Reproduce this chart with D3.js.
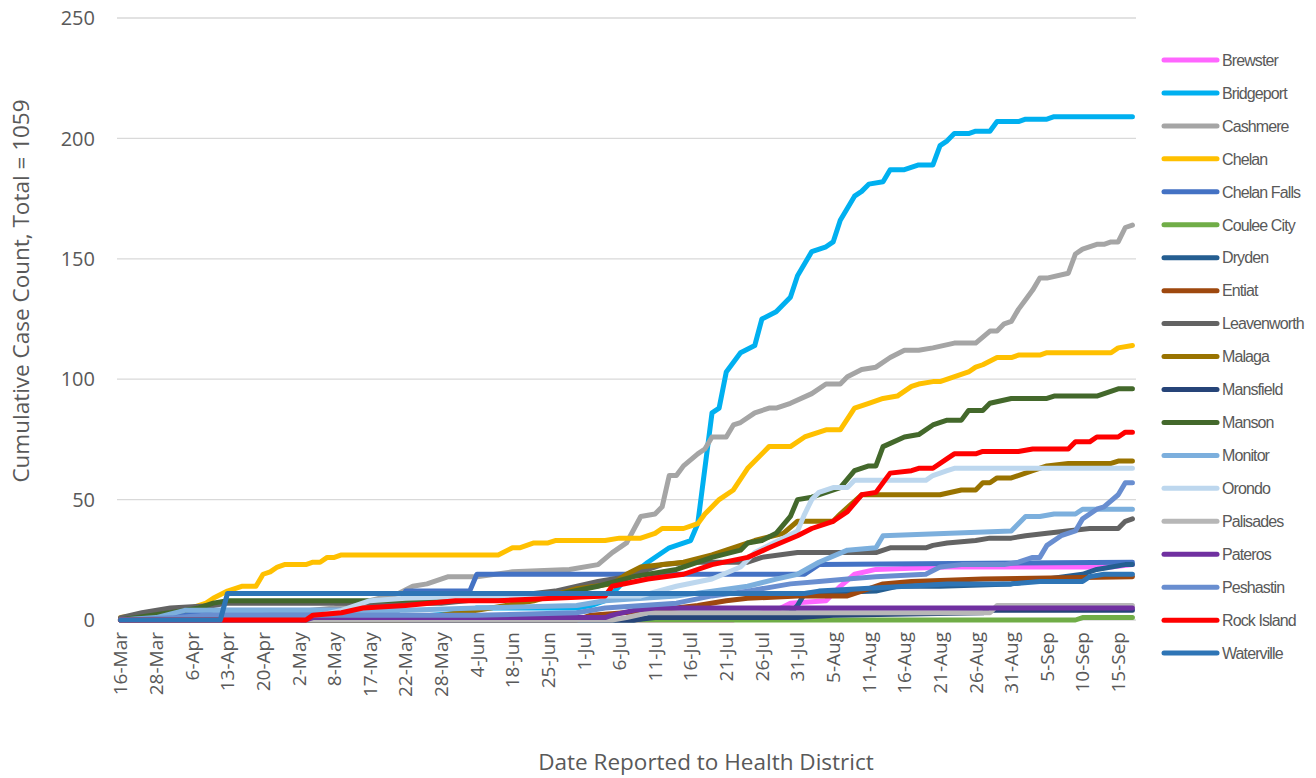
<!DOCTYPE html>
<html lang="en">
<head>
<meta charset="UTF-8">
<script src="https://cdnjs.cloudflare.com/ajax/libs/d3/7.8.5/d3.min.js"></script>
<style>
body { margin: 0; background: #fff; }
svg { display: block; }
.tick-y, .tick-x { font-family: "Open Sans", sans-serif; fill: #595959; }
.legend text { font-family: "Liberation Sans Narrow", "Liberation Sans", sans-serif; fill: #595959; }
</style>
</head>
<body>
<script>
// x axis: one label every 5 reported dates (category index 0..142)
var tickLabels = ["16-Mar","28-Mar","6-Apr","13-Apr","20-Apr","2-May","8-May","17-May","22-May","28-May",
  "4-Jun","18-Jun","25-Jun","1-Jul","6-Jul","11-Jul","16-Jul","21-Jul","26-Jul","31-Jul",
  "5-Aug","11-Aug","16-Aug","21-Aug","26-Aug","31-Aug","5-Sep","10-Sep","15-Sep"];
var nCategories = 143;
var yTicks = [0, 50, 100, 150, 200, 250];

var names = ["Brewster","Bridgeport","Cashmere","Chelan","Chelan Falls","Coulee City","Dryden","Entiat",
  "Leavenworth","Malaga","Mansfield","Manson","Monitor","Orondo","Palisades","Pateros","Peshastin",
  "Rock Island","Waterville"];
var colors = ["#FF66FF","#00B0F0","#A5A5A5","#FFC000","#4472C4","#70AD47","#255E91","#9E480E",
  "#636363","#997300","#264478","#43682B","#7CAFDD","#BDD7EE","#B7B7B7","#7030A0","#698ED0",
  "#FF0000","#2E75B6"];

// cumulative counts: [category index, count] at each change
var brewster = [[0,0],[86,0],[88,2],[92,4],[94,7],[99,8],[101,14],[103,19],[106,21],[116,22],[139,22],[142,23]];
var bridgeport = [[0,0],[40,1],[48,3],[50,5],[64,5],[66,6],[68,8],[69,11],[71,17],[74,24],[77,30],[80,33],[81,40],
  [83,86],[84,88],[85,103],[87,111],[89,114],[90,125],[92,128],[94,134],[95,143],[97,153],[99,155],[100,157],
  [101,166],[103,176],[104,178],[105,181],[107,182],[108,187],[110,187],[112,189],[114,189],[115,197],[116,199],
  [117,202],[119,202],[120,203],[122,203],[123,207],[126,207],[127,208],[130,208],[131,209],[142,209]];
var cashmere = [[0,0],[10,1],[20,2],[30,5],[35,8],[39,11],[41,14],[43,15],[46,18],[50,18],[55,20],[63,21],[67,23],
  [69,28],[71,32],[73,43],[75,44],[76,47],[77,60],[78,60],[79,64],[81,69],[82,71],[83,76],[85,76],[86,81],[87,82],
  [89,86],[91,88],[92,88],[94,90],[97,94],[99,98],[101,98],[102,101],[104,104],[106,105],[108,109],[110,112],
  [112,112],[114,113],[117,115],[120,115],[122,120],[123,120],[124,123],[125,124],[126,129],[127,133],[128,137],
  [129,142],[130,142],[133,144],[134,152],[135,154],[137,156],[138,156],[139,157],[140,157],[141,163],[142,164]];
var chelan = [[0,1],[5,3],[10,5],[12,7],[13,9],[15,12],[17,14],[19,14],[20,19],[21,20],[22,22],[23,23],[26,23],
  [27,24],[28,24],[29,26],[30,26],[31,27],[53,27],[55,30],[56,30],[58,32],[60,32],[61,33],[68,33],[70,34],[73,34],
  [75,36],[76,38],[79,38],[81,40],[82,44],[84,50],[86,54],[88,63],[91,72],[94,72],[96,76],[99,79],[101,79],
  [103,88],[105,90],[107,92],[109,93],[111,97],[112,98],[114,99],[115,99],[119,103],[120,105],[121,106],[123,109],
  [125,109],[126,110],[129,110],[130,111],[139,111],[140,113],[142,114]];
var chelanFalls = [[0,0],[4,1],[9,3],[13,4],[39,4],[40,12],[49,12],[50,19],[96,19],[98,23],[142,24]];
var couleeCity = [[0,0],[134,0],[135,1],[142,1]];
var dryden = [[0,0],[72,0],[74,1],[85,1],[94,3],[95,6],[96,11],[106,12],[109,14],[115,14],[125,15],[135,19],
  [137,21],[141,23],[142,23]];
var entiat = [[0,0],[64,0],[66,2],[75,4],[81,6],[85,8],[88,9],[95,10],[102,10],[104,12],[107,15],[111,16],
  [121,17],[142,18]];
var leavenworth = [[0,1],[3,3],[7,5],[13,6],[15,7],[45,7],[52,9],[61,12],[67,16],[71,18],[76,23],[80,24],[88,24],
  [90,26],[95,28],[106,28],[108,30],[113,30],[114,31],[116,32],[120,33],[122,34],[125,34],[127,35],[130,36],
  [136,38],[140,38],[141,41],[142,42]];
var malaga = [[0,0],[40,0],[45,2],[50,4],[58,8],[64,13],[69,15],[71,19],[73,22],[79,24],[83,27],[87,31],[89,33],
  [93,36],[95,41],[100,41],[101,44],[104,52],[115,52],[118,54],[120,54],[121,57],[122,57],[123,59],[125,59],
  [128,62],[130,64],[133,65],[139,65],[140,66],[142,66]];
var mansfield = [[0,0],[72,0],[75,1],[95,1],[100,2],[121,3],[122,4],[142,4]];
var manson = [[0,0],[9,4],[11,5],[13,7],[15,8],[36,8],[50,9],[62,11],[67,14],[72,18],[78,21],[80,23],[83,26],
  [87,29],[88,32],[90,33],[92,36],[94,43],[95,50],[97,51],[101,55],[103,62],[105,64],[106,64],[107,72],[110,76],
  [112,77],[114,81],[116,83],[118,83],[119,87],[121,87],[122,90],[125,92],[130,92],[131,93],[137,93],[140,96],[142,96]];
var monitor = [[0,0],[5,1],[9,4],[40,4],[50,5],[64,6],[68,8],[78,10],[83,12],[88,14],[92,17],[95,19],[98,24],
  [102,29],[106,30],[107,35],[125,37],[126,40],[127,43],[129,43],[131,44],[134,44],[135,46],[142,46]];
var orondo = [[0,0],[25,0],[31,4],[35,8],[40,9],[50,10],[73,10],[78,14],[83,17],[87,22],[89,28],[91,31],[93,34],
  [95,37],[96,44],[97,50],[98,53],[100,55],[102,55],[103,58],[113,58],[114,60],[116,62],[117,63],[142,63]];
var palisades = [[0,0],[69,0],[71,1],[74,3],[122,3],[123,6],[142,6]];
var pateros = [[0,0],[26,0],[27,1],[68,1],[69,2],[72,4],[75,5],[142,5]];
var peshastin = [[0,0],[8,1],[12,2],[50,2],[64,3],[68,5],[78,7],[83,10],[88,12],[94,15],[98,16],[102,17],[106,18],
  [113,19],[115,22],[118,23],[124,23],[126,24],[128,26],[129,26],[130,31],[132,35],[134,37],[135,42],[137,46],
  [138,47],[140,52],[141,57],[142,57]];
var rockIsland = [[0,0],[26,0],[27,2],[31,3],[34,5],[40,6],[47,8],[53,8],[68,10],[69,14],[74,17],[79,19],[83,23],
  [88,26],[91,30],[95,35],[97,38],[100,41],[102,45],[104,52],[106,53],[108,61],[111,62],[112,63],[114,63],
  [116,67],[117,69],[120,69],[121,70],[126,70],[128,71],[133,71],[134,74],[136,74],[137,76],[140,76],[141,78],[142,78]];
var waterville = [[0,0],[14,0],[15,11],[96,11],[98,12],[116,15],[125,15],[129,16],[135,16],[136,18],[138,19],[142,19]];

var series = [brewster, bridgeport, cashmere, chelan, chelanFalls, couleeCity, dryden, entiat, leavenworth,
  malaga, mansfield, manson, monitor, orondo, palisades, pateros, peshastin, rockIsland, waterville];

var W = 1316, H = 778;
var x = d3.scaleLinear().domain([-0.5, nCategories - 0.5]).range([117, 1136]);
var y = d3.scaleLinear().domain([0, 250]).range([620, 18]);

var svg = d3.select("body").append("svg").attr("width", W).attr("height", H);

// gridlines + y labels
svg.append("g").selectAll("line").data(yTicks).enter().append("line")
  .attr("x1", x.range()[0]).attr("x2", x.range()[1])
  .attr("y1", d => y(d)).attr("y2", d => y(d))
  .attr("stroke", "#D9D9D9").attr("stroke-width", 1.3);

svg.append("g").selectAll("text").data(yTicks).enter().append("text")
  .attr("class", "tick-y")
  .attr("x", 95).attr("y", d => y(d)).attr("dy", "0.36em")
  .attr("text-anchor", "end").style("font-size", "20px")
  .text(d => d);

// x labels, rotated
svg.append("g").selectAll("text").data(tickLabels).enter().append("text")
  .attr("class", "tick-x")
  .attr("transform", (d, i) => "translate(" + x(i * 5) + ",632) rotate(-90)")
  .attr("dy", "0.36em").attr("text-anchor", "end").style("font-size", "19px")
  .text(d => d);

// lines
var line = d3.line().x(d => x(d[0])).y(d => y(d[1]));
svg.append("g").selectAll("path").data(series).enter().append("path")
  .attr("d", line)
  .attr("fill", "none")
  .attr("stroke", (d, i) => colors[i])
  .attr("stroke-width", 5)
  .attr("stroke-linejoin", "round")
  .attr("stroke-linecap", "round");

// axis titles
svg.append("text")
  .attr("transform", "translate(29,291) rotate(-90)")
  .attr("text-anchor", "middle")
  .style("font-family", "'Open Sans', sans-serif").style("font-size", "22.5px").style("fill", "#595959")
  .text("Cumulative Case Count, Total = 1059");

svg.append("text")
  .attr("x", 706).attr("y", 770)
  .attr("text-anchor", "middle")
  .style("font-family", "'Open Sans', sans-serif").style("font-size", "22.5px").style("fill", "#595959")
  .text("Date Reported to Health District");

// legend
var legend = svg.append("g").attr("class", "legend").selectAll("g").data(names).enter().append("g")
  .attr("transform", (d, i) => "translate(0," + (60 + i * 32.95) + ")");
legend.append("line")
  .attr("x1", 1164).attr("x2", 1217)
  .attr("stroke", (d, i) => colors[i]).attr("stroke-width", 5).attr("stroke-linecap", "round");
legend.append("text")
  .attr("x", 1222).attr("dy", "0.36em").style("font-size", "16px").style("letter-spacing", "-0.9px")
  .text(d => d);
</script>
</body>
</html>
